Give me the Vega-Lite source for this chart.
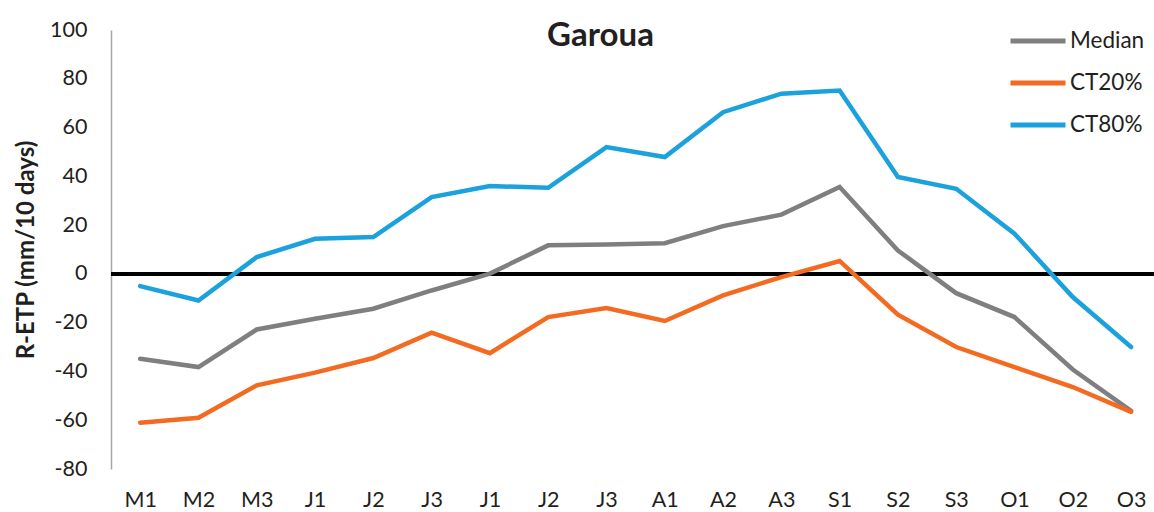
{
  "$schema": "https://vega.github.io/schema/vega-lite/v6.json",
  "autosize": {"type": "none"},
  "width": 1043,
  "height": 439,
  "padding": {"left": 111, "top": 30, "right": 0, "bottom": 43},
  "background": "white",
  "config": {
    "font": "Lato",
    "view": {"stroke": null},
    "axis": {"grid": false, "ticks": false, "labelFont": "Lato", "labelFontSize": 21.5, "labelColor": "#231f20", "titleFont": "Lato"}
  },
  "title": {
    "text": "Garoua",
    "font": "Lato",
    "fontSize": 33,
    "fontWeight": "bold",
    "color": "#231f20",
    "anchor": "middle",
    "dx": -32,
    "offset": -42
  },
  "data": {
    "values": [
      {"idx": 0, "label": "M1", "series": "Median", "value": -34.8},
      {"idx": 1, "label": "M2", "series": "Median", "value": -38.2},
      {"idx": 2, "label": "M3", "series": "Median", "value": -22.8},
      {"idx": 3, "label": "J1", "series": "Median", "value": -18.4},
      {"idx": 4, "label": "J2", "series": "Median", "value": -14.3},
      {"idx": 5, "label": "J3", "series": "Median", "value": -6.8},
      {"idx": 6, "label": "J1", "series": "Median", "value": 0.1},
      {"idx": 7, "label": "J2", "series": "Median", "value": 11.7},
      {"idx": 8, "label": "J3", "series": "Median", "value": 12.1},
      {"idx": 9, "label": "A1", "series": "Median", "value": 12.6},
      {"idx": 10, "label": "A2", "series": "Median", "value": 19.6},
      {"idx": 11, "label": "A3", "series": "Median", "value": 24.3},
      {"idx": 12, "label": "S1", "series": "Median", "value": 35.6},
      {"idx": 13, "label": "S2", "series": "Median", "value": 9.6},
      {"idx": 14, "label": "S3", "series": "Median", "value": -7.9},
      {"idx": 15, "label": "O1", "series": "Median", "value": -17.7},
      {"idx": 16, "label": "O2", "series": "Median", "value": -39.2},
      {"idx": 17, "label": "O3", "series": "Median", "value": -56.2},
      {"idx": 0, "label": "M1", "series": "CT20%", "value": -61.0},
      {"idx": 1, "label": "M2", "series": "CT20%", "value": -59.0},
      {"idx": 2, "label": "M3", "series": "CT20%", "value": -45.7},
      {"idx": 3, "label": "J1", "series": "CT20%", "value": -40.5},
      {"idx": 4, "label": "J2", "series": "CT20%", "value": -34.5},
      {"idx": 5, "label": "J3", "series": "CT20%", "value": -24.1},
      {"idx": 6, "label": "J1", "series": "CT20%", "value": -32.5},
      {"idx": 7, "label": "J2", "series": "CT20%", "value": -17.7},
      {"idx": 8, "label": "J3", "series": "CT20%", "value": -14.0},
      {"idx": 9, "label": "A1", "series": "CT20%", "value": -19.3},
      {"idx": 10, "label": "A2", "series": "CT20%", "value": -8.8},
      {"idx": 11, "label": "A3", "series": "CT20%", "value": -1.3},
      {"idx": 12, "label": "S1", "series": "CT20%", "value": 5.3},
      {"idx": 13, "label": "S2", "series": "CT20%", "value": -16.7},
      {"idx": 14, "label": "S3", "series": "CT20%", "value": -30.0},
      {"idx": 15, "label": "O1", "series": "CT20%", "value": -38.2},
      {"idx": 16, "label": "O2", "series": "CT20%", "value": -46.4},
      {"idx": 17, "label": "O3", "series": "CT20%", "value": -56.6},
      {"idx": 0, "label": "M1", "series": "CT80%", "value": -5.0},
      {"idx": 1, "label": "M2", "series": "CT80%", "value": -10.9},
      {"idx": 2, "label": "M3", "series": "CT80%", "value": 6.9},
      {"idx": 3, "label": "J1", "series": "CT80%", "value": 14.4},
      {"idx": 4, "label": "J2", "series": "CT80%", "value": 15.1},
      {"idx": 5, "label": "J3", "series": "CT80%", "value": 31.5},
      {"idx": 6, "label": "J1", "series": "CT80%", "value": 36.0},
      {"idx": 7, "label": "J2", "series": "CT80%", "value": 35.3},
      {"idx": 8, "label": "J3", "series": "CT80%", "value": 52.0},
      {"idx": 9, "label": "A1", "series": "CT80%", "value": 47.9},
      {"idx": 10, "label": "A2", "series": "CT80%", "value": 66.3},
      {"idx": 11, "label": "A3", "series": "CT80%", "value": 73.9},
      {"idx": 12, "label": "S1", "series": "CT80%", "value": 75.2},
      {"idx": 13, "label": "S2", "series": "CT80%", "value": 39.7},
      {"idx": 14, "label": "S3", "series": "CT80%", "value": 34.9},
      {"idx": 15, "label": "O1", "series": "CT80%", "value": 16.5},
      {"idx": 16, "label": "O2", "series": "CT80%", "value": -9.5},
      {"idx": 17, "label": "O3", "series": "CT80%", "value": -30.0}
    ]
  },
  "encoding": {
    "x": {
      "field": "idx",
      "type": "ordinal",
      "scale": {"type": "point", "padding": 0.447, "align": 0.56},
      "axis": {
        "title": null,
        "domain": false,
        "labelAngle": 0,
        "labelPadding": 20,
        "labelBaseline": "top",
        "labelExpr": "['M1','M2','M3','J1','J2','J3','J1','J2','J3','A1','A2','A3','S1','S2','S3','O1','O2','O3'][datum.value]"
      }
    }
  },
  "layer": [
    {
      "mark": {"type": "rule", "color": "#000000", "strokeWidth": 4},
      "encoding": {"y": {"datum": 0, "type": "quantitative"}, "x": null}
    },
    {
      "mark": {"type": "line", "strokeWidth": 4.5, "strokeCap": "round", "strokeJoin": "miter"},
      "encoding": {
        "y": {
          "field": "value",
          "type": "quantitative",
          "scale": {"domain": [-80, 100], "nice": false},
          "axis": {
            "title": "R-ETP (mm/10 days)",
            "titleFontSize": 24,
            "titleFontWeight": "bold",
            "titleColor": "#231f20",
            "titlePadding": 11,
            "values": [-80, -60, -40, -20, 0, 20, 40, 60, 80, 100],
            "labelExpr": "replace(datum.label, '\u2212', '-')",
            "domain": true,
            "domainColor": "#a6a6a6",
            "domainWidth": 1.5,
            "labelPadding": 24
          }
        },
        "color": {
          "field": "series",
          "type": "nominal",
          "scale": {"domain": ["Median", "CT20%", "CT80%"], "range": ["#7f7f7f", "#f26b21", "#1ba1db"]},
          "legend": {
            "title": null,
            "orient": "none",
            "legendX": 897,
            "legendY": -19,
            "symbolType": "stroke",
            "symbolStrokeWidth": 5,
            "symbolSize": 3025,
            "labelFontSize": 22.5,
            "labelFont": "Lato",
            "labelColor": "#231f20",
            "labelOffset": 2,
            "rowPadding": -21
          }
        }
      }
    }
  ]
}
